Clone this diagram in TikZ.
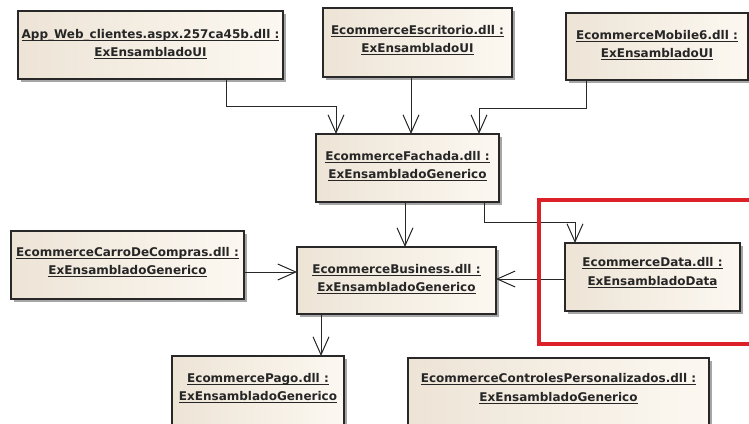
\documentclass[tikz,border=0pt]{standalone}
\usepackage{fontspec}
\setmainfont{DejaVu Sans}
\usetikzlibrary{arrows.meta,shadows,calc}

\definecolor{boxfillA}{RGB}{237,228,214}
\definecolor{boxfillB}{RGB}{252,248,241}
\definecolor{edgecol}{RGB}{40,40,40}
\definecolor{redframe}{RGB}{220,32,40}

\newcommand\umlul[1]{\setbox0\hbox{#1}\rlap{\rule[-3pt]{\wd0}{0.8pt}}\box0}

\tikzset{
  umlbox/.style={draw=edgecol, line width=1.2pt, left color=boxfillA, right color=boxfillB,
    inner sep=0pt, outer sep=0pt, anchor=north west,
    general shadow={shadow xshift=3pt, shadow yshift=-3pt, fill=black!35}},
  lbl/.style={anchor=base, inner sep=0pt, font=\bfseries\fontsize{12}{14}\selectfont, text=black!85},
  conn/.style={draw=edgecol, line width=1pt, -{Straight Barb[length=18pt, width=16pt]}},
}

\begin{document}
\begin{tikzpicture}[x=1pt, y=-1pt]
\useasboundingbox (0,0) rectangle (749,423);
\clip (0,0) rectangle (749,423);

% boxes
\node[umlbox, minimum width=265pt, minimum height=68pt] (appweb) at (18,11) {};
\node[umlbox, minimum width=189pt, minimum height=69pt] (escritorio) at (323,8) {};
\node[umlbox, minimum width=182pt, minimum height=67pt] (mobile) at (566,13) {};
\node[umlbox, minimum width=183pt, minimum height=68pt] (fachada) at (316,134) {};
\node[umlbox, minimum width=233pt, minimum height=68pt] (carro) at (11,231) {};
\node[umlbox, minimum width=199pt, minimum height=67pt] (business) at (297,247) {};
\node[umlbox, minimum width=175pt, minimum height=68pt] (data) at (565,243) {};
\node[umlbox, minimum width=172pt, minimum height=90pt] (pago) at (172,356) {};
\node[umlbox, minimum width=301pt, minimum height=90pt] (controles) at (408,358) {};

% labels
\node[lbl] (appwebA) at ($(appweb.north)+(0,27)$) {\umlul{App\_Web\_clientes.aspx.257ca45b.dll :}};
\node[lbl] (appwebB) at ($(appweb.north)+(0,45)$) {\umlul{ExEnsambladoUI}};
\node[lbl] (escritorioA) at ($(escritorio.north)+(0,26)$) {\umlul{EcommerceEscritorio.dll :}};
\node[lbl] (escritorioB) at ($(escritorio.north)+(0,44)$) {\umlul{ExEnsambladoUI}};
\node[lbl] (mobileA) at ($(mobile.north)+(0,26)$) {\umlul{EcommerceMobile6.dll :}};
\node[lbl] (mobileB) at ($(mobile.north)+(0,44)$) {\umlul{ExEnsambladoUI}};
\node[lbl] (fachadaA) at ($(fachada.north)+(0,26)$) {\umlul{EcommerceFachada.dll :}};
\node[lbl] (fachadaB) at ($(fachada.north)+(0,44)$) {\umlul{ExEnsambladoGenerico}};
\node[lbl] (carroA) at ($(carro.north)+(0,25)$) {\umlul{EcommerceCarroDeCompras.dll :}};
\node[lbl] (carroB) at ($(carro.north)+(0,43)$) {\umlul{ExEnsambladoGenerico}};
\node[lbl] (businessA) at ($(business.north)+(0,26)$) {\umlul{EcommerceBusiness.dll :}};
\node[lbl] (businessB) at ($(business.north)+(0,44)$) {\umlul{ExEnsambladoGenerico}};
\node[lbl] (dataA) at ($(data.north)+(0,23)$) {\umlul{EcommerceData.dll :}};
\node[lbl] (dataB) at ($(data.north)+(0,42)$) {\umlul{ExEnsambladoData}};
\node[lbl] (pagoA) at ($(pago.north)+(0,26)$) {\umlul{EcommercePago.dll :}};
\node[lbl] (pagoB) at ($(pago.north)+(0,44)$) {\umlul{ExEnsambladoGenerico}};
\node[lbl] (controlesA) at ($(controles.north)+(0,24)$) {\umlul{EcommerceControlesPersonalizados.dll :}};
\node[lbl] (controlesB) at ($(controles.north)+(0,43)$) {\umlul{ExEnsambladoGenerico}};

% connectors
\draw[conn] ([xshift=208pt]appweb.south west) -- ++(0,27) -| ([xshift=20pt]fachada.north west);
\draw[conn] ([xshift=-6.5pt]escritorio.south) -- ([xshift=-6.5pt]escritorio.south |- fachada.north);
\draw[conn] ([xshift=20pt]mobile.south west) -- ++(0,28) -| ([xshift=-20pt]fachada.north east);
\draw[conn] ([xshift=-2.5pt]fachada.south) -- ([xshift=-2.5pt]fachada.south |- business.north);
\draw[conn] ([xshift=-15pt]fachada.south east) -- ++(0,20) -| ([xshift=10pt]data.north west);
\draw[conn] ([yshift=-7pt]carro.east) -- ([yshift=-7pt]carro.east -| business.west);
\draw[conn] ([yshift=-2pt]data.west) -- ([yshift=-2pt]data.west -| business.east);
\draw[conn] ([xshift=24pt]business.south west) -- ([xshift=24pt]business.south west |- pago.north);

% red highlight frame
\node[draw=redframe, line width=3.5pt, inner sep=0pt, anchor=north west,
      minimum width=240pt, minimum height=144pt] (frame) at (537,198) {};
\end{tikzpicture}
\end{document}
